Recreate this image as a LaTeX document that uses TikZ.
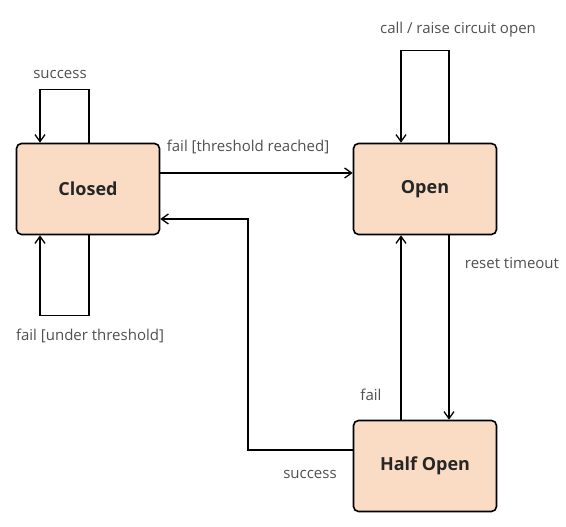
\documentclass[tikz,border=0pt]{standalone}
\usepackage{fontspec}
\setmainfont{Open Sans}
\usetikzlibrary{arrows.meta}
\definecolor{peach}{HTML}{FADCC4}
\definecolor{labelgray}{HTML}{505050}

\begin{document}
\begin{tikzpicture}[x=1pt,y=1pt,
    state/.style={draw, line width=1.6pt, rounded corners=5pt, fill=peach,
        minimum width=143pt, minimum height=91pt, inner sep=0pt,
        font=\fontsize{18}{21}\selectfont\bfseries, text=black!85},
    edge/.style={line width=1.3pt, -{Straight Barb[length=7pt,width=10pt,line width=1.3pt]}},
    lbl/.style={font=\fontsize{15}{18}\selectfont, text=labelgray, inner sep=0pt}]
    \useasboundingbox (0,0) rectangle (566,527);
    % Draw the three states
    \node (closed) [state] at (88,338) {Closed};
    \node (open) [state] at (425,338) {Open};
    \node (half) [state] at (425,61) {Half Open};

    % Self loops
    \draw [edge] ([xshift=1pt]closed.north) -- ++(0,53)
        -| ([xshift=-48pt]closed.north);
    \draw [edge] ([xshift=1pt]closed.south) -- ++(0,-80)
        -| ([xshift=-48pt]closed.south);
    \draw [edge] ([xshift=24pt]open.north) -- ++(0,92)
        -| ([xshift=-24pt]open.north);

    % Transitions between states
    \draw [edge] ([yshift=16pt]closed.east) -- ([yshift=16pt]open.west);
    \draw [edge] ([xshift=24pt]open.south) -- ([xshift=24pt]half.north);
    \draw [edge] ([xshift=-24pt]half.north) -- ([xshift=-24pt]open.south);
    \coordinate (turn) at (248,308);
    \draw [edge] ([yshift=16pt]half.west) -| (turn)
        -- (turn -| closed.east);

    % Labels
    \node (l_succ1) [lbl] at (60,453) {success};
    \node (l_under) [lbl] at (90,191) {fail [under threshold]};
    \node (l_reach) [lbl] at (248,380) {fail [threshold reached]};
    \node (l_call) [lbl] at (458,497) {call / raise circuit open};
    \node (l_reset) [lbl] at (512,264) {reset timeout};
    \node (l_fail) [lbl] at (371,132) {fail};
    \node (l_succ2) [lbl] at (310,53) {success};
\end{tikzpicture}
\end{document}
